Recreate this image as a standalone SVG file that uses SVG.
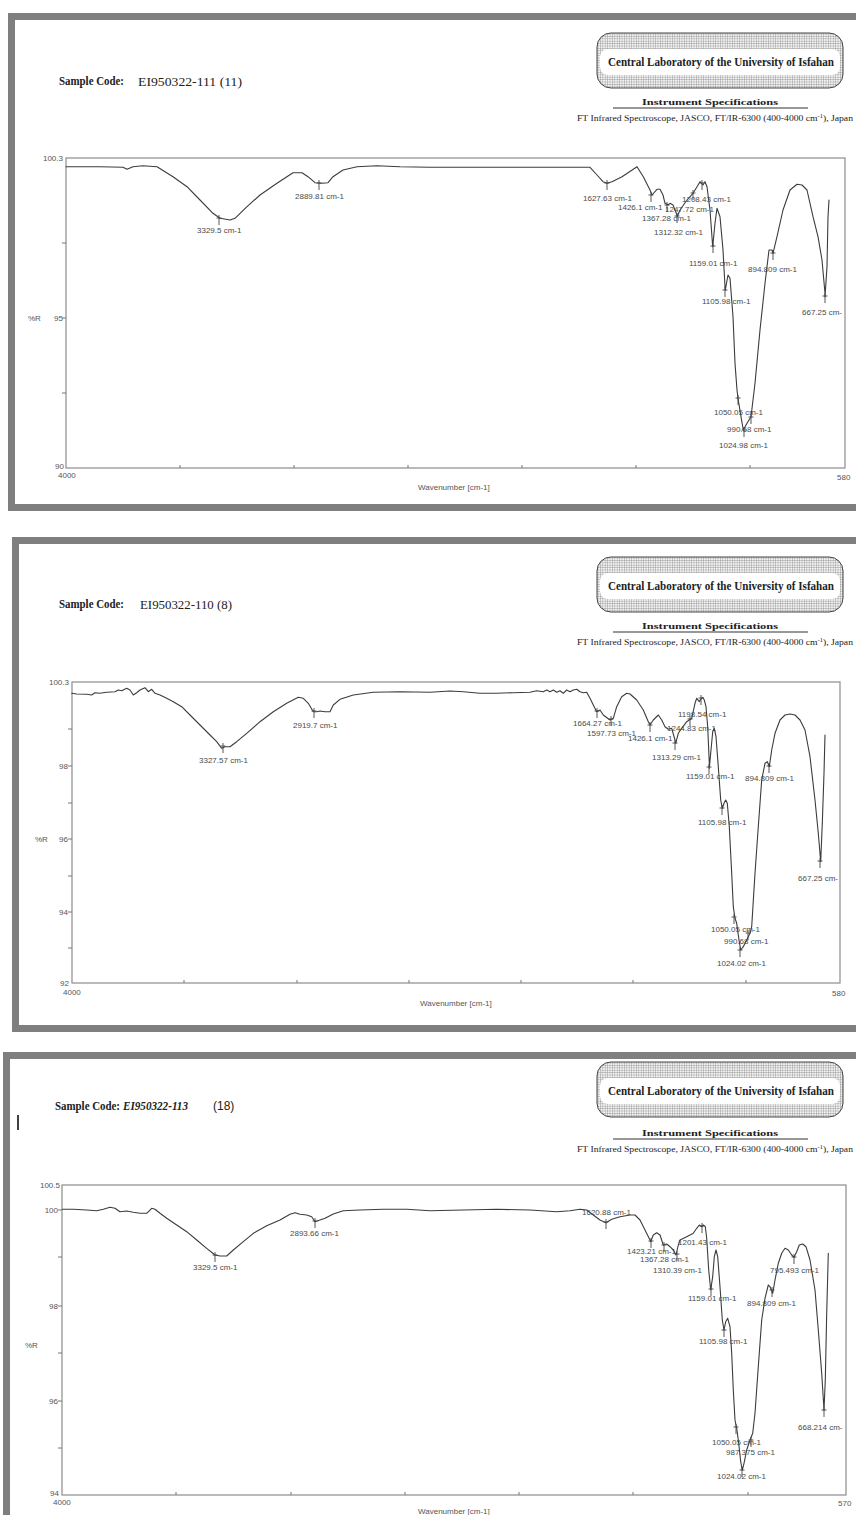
<svg xmlns="http://www.w3.org/2000/svg" width="856" height="1515" viewBox="0 0 856 1515">
<style>
.frame{fill:none;stroke:#7f7f7f;stroke-width:7}
.axis{fill:none;stroke:#8c8c8c;stroke-width:1.2}
.tick{stroke:#777;stroke-width:1}
.curve{fill:none;stroke:#3c3c3c;stroke-width:1.1;stroke-linejoin:round;stroke-linecap:round}
.mk{fill:none;stroke:#444;stroke-width:0.9}
.lbl{font-family:"Liberation Sans",Arial,sans-serif;font-size:8px;fill:#4a4a4a}
.ax{font-family:"Liberation Sans",Arial,sans-serif;font-size:8px;fill:#555}
.axe{font-family:"Liberation Sans",Arial,sans-serif;font-size:8px;fill:#555;text-anchor:end}
.logo{font-family:"Liberation Serif","Times New Roman",serif;font-weight:bold;font-size:12px;fill:#222}
.spec{font-family:"Liberation Serif","Times New Roman",serif;font-weight:bold;font-size:9px;fill:#222}
.ft{font-family:"Liberation Serif","Times New Roman",serif;font-size:9px;fill:#222}
.sc{font-family:"Liberation Serif","Times New Roman",serif;font-weight:bold;font-size:12px;fill:#222}
.code{font-family:"Liberation Serif","Times New Roman",serif;font-size:13.5px;fill:#222}
</style>
<defs>
<pattern id="hatch" width="2.4" height="2.4" patternUnits="userSpaceOnUse">
<rect width="2.4" height="2.4" fill="#f4f4f4"/>
<path d="M0 0H2.4M0 0V2.4" stroke="#8a8a8a" stroke-width="0.8"/>
</pattern>
<path id="mk" class="mk" d="M-2.5 0H2.5M0 -3V7"/>
</defs>
<rect width="856" height="1515" fill="#fff"/>

<!-- ================= PANEL 1 ================= -->
<g id="panel1">
<rect class="frame" x="11.5" y="16.5" width="870" height="491"/>
<g id="header1">
<text class="sc" x="59" y="85" textLength="65" lengthAdjust="spacingAndGlyphs">Sample Code:</text>
<text class="code" x="138" y="86" textLength="104" lengthAdjust="spacingAndGlyphs">EI950322-111 (11)</text>
<rect x="597" y="33" width="246" height="55" rx="14" fill="url(#hatch)" stroke="#444" stroke-width="1"/>
<rect x="600" y="49" width="240" height="26" rx="8" fill="#fff"/>
<text class="logo" x="608" y="66" textLength="226" lengthAdjust="spacingAndGlyphs">Central Laboratory of the University of Isfahan</text>
<text class="spec" x="642" y="105" textLength="136" lengthAdjust="spacingAndGlyphs">Instrument Specifications</text>
<line x1="613" y1="108" x2="808" y2="108" stroke="#333" stroke-width="1.2"/>
<text class="ft" x="577" y="121" textLength="276" lengthAdjust="spacingAndGlyphs">FT Infrared Spectroscope, JASCO, FT/IR-6300 (400-4000 cm<tspan font-size="6" dy="-3">-1</tspan><tspan dy="3">), Japan</tspan></text>
</g>
<g id="plot1">
<rect class="axis" x="66" y="158" width="779" height="310"/>
<path class="tick" d="M62 243H66M62 318H66M62 393H66M180 468V465M294 468V465M408 468V465M522 468V465M636 468V465M750 468V465"/>
<text class="axe" x="63" y="161">100.3</text>
<text class="axe" x="63" y="321">95</text>
<text class="axe" x="64" y="469">90</text>
<text class="ax" x="58" y="478">4000</text>
<text class="ax" x="28" y="321">%R</text>
<text class="ax" x="837" y="480">580</text>
<text class="ax" x="418" y="490">Wavenumber [cm-1]</text>
<path class="curve" d="M66,166.7 L100,166.7 123,167.3 127,169.3 133,166.7 143,165.7 157,166.7 173,176.7 187,186.7 200,200 213,213.3 220,218.3 230,220 235,218.3 247,206.7 260,195 277,183.3 293,172.7 302,172.7 308,176.7 315,182.7 322,183.3 328,182.7 333,176.7 343,170 357,166.7 377,165.7 400,166.7 430,167.3 480,167.3 530,167.3 590,167.3 597,175 603,181.7 607,183.3 612,181.7 622,176.7 637,166.7 643.3,176.7 650,190 652,195 657,189.3 660,189.3 663,195 665,203.3 668,205 670,203.3 673,205 677,215 677.3,216.7 680,210 687,200 693,193.3 697,186.7 700,181.7 703,185 705,181.7 707,186.7 710,210 712.7,246.7 715,223.3 717,208.3 720,216.7 723,250 725,286.7 725.3,290 728,275 730,278.3 733,316.7 735,363.3 737,390 738,398.3 741,416.7 743.3,430 747,423.3 751,416.7 755,383.3 760,330 765,283.3 769,250 772,250 773,253.3 777,236.7 783,210 790,190 797,184.3 802,185 807,190 813,216.7 818,236.7 822,260 825,293.3 825,296.7 827,266.7 828,216.7 829,200"/>
<g id="markers1">
<use href="#mk" x="219" y="218"/><use href="#mk" x="319" y="183"/><use href="#mk" x="607" y="183"/>
<use href="#mk" x="651" y="195"/><use href="#mk" x="667" y="205"/><use href="#mk" x="677" y="216"/>
<use href="#mk" x="693" y="193"/><use href="#mk" x="702" y="183"/><use href="#mk" x="713" y="246"/>
<use href="#mk" x="725" y="290"/><use href="#mk" x="738" y="398"/><use href="#mk" x="744" y="430"/>
<use href="#mk" x="751" y="417"/><use href="#mk" x="773" y="253"/><use href="#mk" x="825" y="296"/>
</g>
<g id="labels1">
<text class="lbl" x="197" y="233">3329.5 cm-1</text>
<text class="lbl" x="295" y="199">2889.81 cm-1</text>
<text class="lbl" x="583" y="201">1627.63 cm-1</text>
<text class="lbl" x="618" y="210">1426.1 cm-1</text>
<text class="lbl" x="665" y="212">1247.72 cm-1</text>
<text class="lbl" x="682" y="202">1208.43 cm-1</text>
<text class="lbl" x="642" y="221">1367.28 cm-1</text>
<text class="lbl" x="654" y="235">1312.32 cm-1</text>
<text class="lbl" x="689" y="266">1159.01 cm-1</text>
<text class="lbl" x="748" y="272">894.809 cm-1</text>
<text class="lbl" x="702" y="304">1105.98 cm-1</text>
<text class="lbl" x="802" y="315">667.25 cm-</text>
<text class="lbl" x="714" y="415">1050.05 cm-1</text>
<text class="lbl" x="727" y="432">990.68 cm-1</text>
<text class="lbl" x="719" y="448">1024.98 cm-1</text>
</g>
</g>
</g>

<!-- ================= PANEL 2 ================= -->
<g id="panel2">
<rect class="frame" x="15.5" y="540.5" width="870" height="488"/>
<g id="header2">
<text class="sc" x="59" y="608" textLength="65" lengthAdjust="spacingAndGlyphs">Sample Code:</text>
<text class="code" x="140" y="609" textLength="92" lengthAdjust="spacingAndGlyphs">EI950322-110 (8)</text>
<g transform="translate(0,524)">
<rect x="597" y="33" width="246" height="55" rx="14" fill="url(#hatch)" stroke="#444" stroke-width="1"/>
<rect x="600" y="49" width="240" height="26" rx="8" fill="#fff"/>
<text class="logo" x="608" y="66" textLength="226" lengthAdjust="spacingAndGlyphs">Central Laboratory of the University of Isfahan</text>
<text class="spec" x="642" y="105" textLength="136" lengthAdjust="spacingAndGlyphs">Instrument Specifications</text>
<line x1="613" y1="108" x2="808" y2="108" stroke="#333" stroke-width="1.2"/>
<text class="ft" x="577" y="121" textLength="276" lengthAdjust="spacingAndGlyphs">FT Infrared Spectroscope, JASCO, FT/IR-6300 (400-4000 cm<tspan font-size="6" dy="-3">-1</tspan><tspan dy="3">), Japan</tspan></text>
</g>
</g>
<g id="plot2">
<rect class="axis" x="72" y="682" width="768" height="301"/>
<path class="tick" d="M68 729H72M68 766H72M68 803H72M68 839H72M68 876H72M68 912H72M68 948H72M184 983V980M297 983V980M409 983V980M521 983V980M633 983V980M746 983V980"/>
<text class="axe" x="69" y="685">100.3</text>
<text class="axe" x="68" y="769">98</text>
<text class="axe" x="68" y="842">96</text>
<text class="axe" x="68" y="915">94</text>
<text class="axe" x="69" y="986">92</text>
<text class="ax" x="63" y="995">4000</text>
<text class="ax" x="35" y="842">%R</text>
<text class="ax" x="832" y="996">580</text>
<text class="ax" x="420" y="1006">Wavenumber [cm-1]</text>
<path class="curve" d="M71.7,693.3 L76.7,694 86.7,694.3 91.7,695 95,692.7 100,693.3 106.7,692.3 115,691.7 118.3,690 121.7,690.7 126.7,688.3 130,690 133.3,695 136.7,692.7 140,690 145,687.7 148.3,691.7 151.7,689.3 155,693.3 160,695 166.7,698.3 173.3,701.7 181.7,706.7 190,715 200,725 210,735 216.7,741.7 221.7,748.3 225,746.7 230,746.7 236.7,741.7 246.7,733.3 260,721.7 273.3,711.7 286.7,703.3 298.3,697.3 303.3,698.3 308.3,703.3 313.3,711.7 316.7,711.7 320,711 325,711.7 330,711.7 333.3,705 340,699.3 353.3,695 373.3,692.3 400,691.7 430,692.3 450,691 463.3,691.7 480,693.3 496.7,693.3 513.3,692.7 530,692.3 536.7,690.7 543.3,691.7 546.7,690 550,691.7 553.3,690 556.7,692.3 560,690.7 563.3,693.3 566.7,690 570,691.7 573.3,690 576.7,689.3 580,691.7 583.3,692.7 586.7,692.3 590,698.3 593.3,705 596.7,711.7 600,710 603.3,715 610,720 613.3,718.3 616.7,706.7 621.7,696.7 626.7,693.3 630,694 636.7,700 643.3,710 648.3,721.7 650,725 653.3,720 658.3,715 661.7,720 665,726.7 668.3,729.3 671.7,728.3 675,740 675.7,743.3 678.3,733.3 681.7,728.3 686.7,721.7 691.7,718.3 695,703.3 696.7,698.3 699.3,701.7 700.7,699.3 702.7,697.3 704.3,700 706,706.7 707.7,726.7 709.3,763.3 709.3,768.3 711,750 712.7,731.7 714.3,728.3 716,736.7 718.3,766.7 720.7,800 722.3,808.3 724,803.3 725.7,800 727.3,803.3 729.3,826.7 731.7,873.3 733.3,906.7 735,918.3 736.7,923.3 739,940 740.7,950 743.3,946.7 746.7,940 750,933.3 751.7,926.7 755,873.3 758.3,826.7 761.7,780 765,763.3 767.3,761.7 769.3,766.7 771.7,750 775,733.3 780,720 785,715 790,714 795,715 800,720 805,730 810,756.7 815,800 818.3,833.3 820.7,861.7 822.3,823.3 824,773.3 825,735"/>
<g id="markers2">
<use href="#mk" x="223" y="746"/><use href="#mk" x="314" y="711"/><use href="#mk" x="597" y="711"/>
<use href="#mk" x="611" y="719"/><use href="#mk" x="650" y="725"/><use href="#mk" x="675" y="743"/>
<use href="#mk" x="690" y="719"/><use href="#mk" x="701" y="698"/><use href="#mk" x="709" y="767"/>
<use href="#mk" x="722" y="808"/><use href="#mk" x="734" y="917"/><use href="#mk" x="740" y="950"/>
<use href="#mk" x="748" y="933"/><use href="#mk" x="769" y="766"/><use href="#mk" x="820" y="861"/>
</g>
<g id="labels2">
<text class="lbl" x="199" y="763">3327.57 cm-1</text>
<text class="lbl" x="293" y="728">2919.7 cm-1</text>
<text class="lbl" x="573" y="726">1664.27 cm-1</text>
<text class="lbl" x="587" y="736">1597.73 cm-1</text>
<text class="lbl" x="628" y="741">1426.1 cm-1</text>
<text class="lbl" x="667" y="731">1244.83 cm-1</text>
<text class="lbl" x="678" y="717">1198.54 cm-1</text>
<text class="lbl" x="652" y="760">1313.29 cm-1</text>
<text class="lbl" x="686" y="779">1159.01 cm-1</text>
<text class="lbl" x="745" y="781">894.809 cm-1</text>
<text class="lbl" x="698" y="825">1105.98 cm-1</text>
<text class="lbl" x="798" y="881">667.25 cm-</text>
<text class="lbl" x="711" y="932">1050.05 cm-1</text>
<text class="lbl" x="724" y="944">990.68 cm-1</text>
<text class="lbl" x="717" y="966">1024.02 cm-1</text>
</g>
</g>
</g>

<!-- ================= PANEL 3 ================= -->
<g id="panel3">
<rect class="frame" x="6.5" y="1055.5" width="870" height="500"/>
<line x1="18" y1="1115" x2="18" y2="1130" stroke="#111" stroke-width="1.6"/>
<g id="header3">
<text class="sc" x="55" y="1110" textLength="65" lengthAdjust="spacingAndGlyphs">Sample Code:</text>
<text class="sc" x="123" y="1110" font-style="italic" textLength="65" lengthAdjust="spacingAndGlyphs">EI950322-113</text>
<text x="213" y="1110" font-family="Liberation Sans, Arial, sans-serif" font-size="12" fill="#222">(18)</text>
<g transform="translate(0,1029)">
<rect x="597" y="33" width="246" height="55" rx="14" fill="url(#hatch)" stroke="#444" stroke-width="1"/>
<rect x="600" y="49" width="240" height="26" rx="8" fill="#fff"/>
<text class="logo" x="608" y="66" textLength="226" lengthAdjust="spacingAndGlyphs">Central Laboratory of the University of Isfahan</text>
<text class="spec" x="642" y="107" textLength="136" lengthAdjust="spacingAndGlyphs">Instrument Specifications</text>
<line x1="613" y1="110" x2="808" y2="110" stroke="#333" stroke-width="1.2"/>
<text class="ft" x="577" y="123" textLength="276" lengthAdjust="spacingAndGlyphs">FT Infrared Spectroscope, JASCO, FT/IR-6300 (400-4000 cm<tspan font-size="6" dy="-3">-1</tspan><tspan dy="3">), Japan</tspan></text>
</g>
</g>
<g id="plot3">
<rect class="axis" x="62" y="1185" width="784" height="310"/>
<path class="tick" d="M58 1210H62M58 1257H62M58 1306H62M58 1353H62M58 1401H62M58 1448H62M176 1495V1492M291 1495V1492M405 1495V1492M519 1495V1492M633 1495V1492M748 1495V1492"/>
<text class="axe" x="60" y="1188">100.5</text>
<text class="axe" x="58" y="1213">100</text>
<text class="axe" x="58" y="1309">98</text>
<text class="axe" x="58" y="1404">96</text>
<text class="axe" x="59" y="1496">94</text>
<text class="ax" x="53" y="1505">4000</text>
<text class="ax" x="25" y="1348">%R</text>
<text class="ax" x="838" y="1506">570</text>
<text class="ax" x="418" y="1514">Wavenumber [cm-1]</text>
<path class="curve" d="M62.3,1209.3 L73.3,1209.3 86.7,1210 96.7,1210.7 103.3,1209.3 110,1207.3 115,1208.3 120,1211.7 126.7,1211 133.3,1212.3 140,1213.3 146.7,1213.3 151.7,1208.3 155,1209.3 160,1213.3 166.7,1218.3 176.7,1225 186.7,1231.7 196.7,1240 206.7,1248.3 215,1255 220,1256 226.7,1256 233.3,1250 243.3,1241.7 253.3,1233.3 266.7,1225.7 280,1220 290,1214.3 295,1212.7 300,1214.3 306.7,1215 311.7,1216.7 315,1221.7 320,1220 325,1218.3 333.3,1214 343.3,1210.7 360,1210 383.3,1209.3 406.7,1209.3 430,1210.7 463.3,1210 496.7,1209.3 530,1210 556.7,1211.7 570,1210.7 580,1209.3 586.7,1210 593.3,1215 600,1220 606,1222.7 611.7,1219.3 620,1216.7 630,1215 635,1215 640,1220 645,1230 650,1240 650.7,1241.7 653.3,1235 656.7,1232.7 660,1235 663.3,1245 666.7,1244 670,1246.7 673.3,1250 676,1255 678.3,1245 680,1240 686.7,1236.7 693.3,1233.3 696.7,1228.3 699.3,1225 701.7,1226.7 703.3,1225 705.3,1226.7 706.7,1238.3 708.7,1270 710.7,1290 712.7,1276.7 714.3,1256.7 716,1250 717.7,1256.7 720,1286.7 722.3,1320 724,1330 725.7,1321.7 727.7,1318.3 730,1326.7 731.7,1353.3 733.3,1390 735,1420 736.7,1428.3 738.7,1443.3 740.7,1461.7 742.3,1470 744,1463.3 746.7,1450 750,1440 752.7,1433.3 755,1413.3 758.3,1366.7 761.7,1320 765,1298.3 768.3,1285 770,1286.7 772.7,1293.3 775,1280 778.3,1263.3 781.7,1253.3 785,1248.3 788.3,1250 791.7,1255 794,1257.3 796.7,1251.7 799.3,1245 802.7,1244 806,1246.7 810,1260 815,1290 818.3,1330 821.7,1373.3 824,1410 825.3,1380 826.7,1313.3 828.3,1253.3"/>
<g id="markers3">
<use href="#mk" x="215" y="1255"/><use href="#mk" x="315" y="1221"/><use href="#mk" x="606" y="1222"/>
<use href="#mk" x="651" y="1241"/><use href="#mk" x="664" y="1245"/><use href="#mk" x="677" y="1254"/>
<use href="#mk" x="702" y="1226"/><use href="#mk" x="711" y="1289"/><use href="#mk" x="724" y="1330"/>
<use href="#mk" x="736" y="1427"/><use href="#mk" x="742" y="1470"/><use href="#mk" x="751" y="1440"/>
<use href="#mk" x="772" y="1290"/><use href="#mk" x="794" y="1257"/><use href="#mk" x="824" y="1410"/>
</g>
<g id="labels3">
<text class="lbl" x="193" y="1270">3329.5 cm-1</text>
<text class="lbl" x="290" y="1236">2893.66 cm-1</text>
<text class="lbl" x="582" y="1215">1620.88 cm-1</text>
<text class="lbl" x="627" y="1254">1423.21 cm-1</text>
<text class="lbl" x="640" y="1262">1367.28 cm-1</text>
<text class="lbl" x="653" y="1273">1310.39 cm-1</text>
<text class="lbl" x="678" y="1245">1201.43 cm-1</text>
<text class="lbl" x="688" y="1301">1159.01 cm-1</text>
<text class="lbl" x="747" y="1306">894.809 cm-1</text>
<text class="lbl" x="770" y="1273">795.493 cm-1</text>
<text class="lbl" x="699" y="1344">1105.98 cm-1</text>
<text class="lbl" x="798" y="1430">668.214 cm-</text>
<text class="lbl" x="712" y="1445">1050.05 cm-1</text>
<text class="lbl" x="726" y="1455">987.375 cm-1</text>
<text class="lbl" x="717" y="1479">1024.02 cm-1</text>
</g>
</g>
</g>
</svg>
